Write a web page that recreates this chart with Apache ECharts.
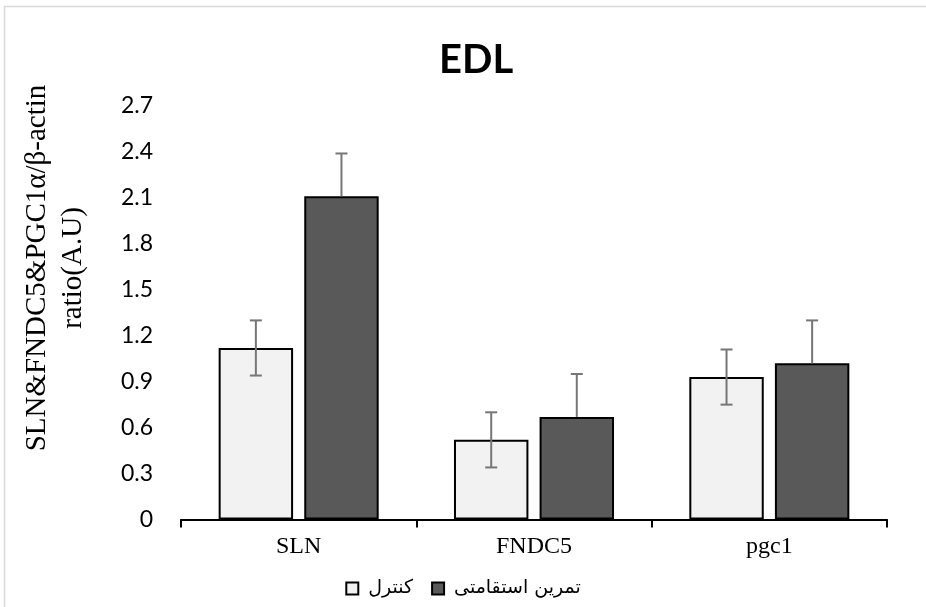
<!DOCTYPE html>
<html>
<head>
<meta charset="utf-8">
<script src="https://cdn.jsdelivr.net/npm/echarts@6/dist/echarts.min.js"></script>
<style>html,body{margin:0;padding:0;background:#fff;}#c{width:926px;height:607px;}</style>
</head>
<body>
<div id="c"></div>
<script>
var categories = ['SLN', 'FNDC5', 'pgc1'];
var seriesNames = ['کنترل', 'تمرین استقامتی'];
var controlValues = [1.12, 0.52, 0.93];
var controlErrors = [0.18, 0.18, 0.18];
var exerciseValues = [2.11, 0.67, 1.02];
var exerciseErrors = [0.28, 0.28, 0.28];
var yTicks = [0, 0.3, 0.6, 0.9, 1.2, 1.5, 1.8, 2.1, 2.4, 2.7];

var chart = echarts.init(document.getElementById('c'));
var catGap = 0.32, barGap = 0.15;

function errSeries(name, values, errors, idx, bothSides) {
  return {
    type: 'custom',
    name: name + '_err',
    z: 10,
    silent: true,
    data: values.map(function (v, i) { return [i, v, errors[i]]; }),
    renderItem: function (params, api) {
      var i = api.value(0), v = api.value(1), e = api.value(2);
      var band = api.size([1, 0])[0];
      var bw = band * (1 - catGap) / (2 + barGap);
      var off = (bw * (1 + barGap)) / 2 * (idx === 0 ? -1 : 1);
      var top = api.coord([i, v + e]);
      var mid = api.coord([i, v]);
      var bot = api.coord([i, v - e]);
      var x = top[0] + off;
      var lo = bothSides ? bot[1] : mid[1];
      var st = { stroke: '#767676', lineWidth: 2 };
      var children = [
        { type: 'line', shape: { x1: x, y1: top[1], x2: x, y2: lo }, style: st },
        { type: 'line', shape: { x1: x - 6, y1: top[1], x2: x + 6, y2: top[1] }, style: st }
      ];
      if (bothSides) children.push({ type: 'line', shape: { x1: x - 6, y1: bot[1], x2: x + 6, y2: bot[1] }, style: st });
      return { type: 'group', children: children };
    }
  };
}

chart.setOption({
  animation: false,
  backgroundColor: '#fff',
  title: {
    text: 'EDL', left: 434, top: 35,
    textStyle: { fontFamily: 'Lato', fontWeight: 'bold', fontSize: 40, color: '#000' }
  },
  grid: { left: 181, right: 39, top: 106, bottom: 87.5, containLabel: false },
  legend: {
    data: seriesNames,
    bottom: 4, left: 'center',
    itemWidth: 12, itemHeight: 12, itemGap: 18,
    icon: 'rect',
    textStyle: { fontFamily: 'DejaVu Sans', fontSize: 19, color: '#000', padding: [0, 0, 0, 5] }
  },
  xAxis: {
    type: 'category',
    data: categories,
    axisLine: { lineStyle: { color: '#000', width: 2 } },
    axisTick: { show: true, length: 8, lineStyle: { color: '#000', width: 2 } },
    axisLabel: { fontFamily: 'Liberation Serif', fontSize: 24, color: '#000', margin: 15 }
  },
  yAxis: {
    type: 'value', min: 0, max: 2.7, interval: 0.3,
    splitLine: { show: false },
    axisLine: { show: false },
    axisTick: { show: false },
    axisLabel: {
      fontFamily: 'Lato', fontSize: 23, color: '#000', margin: 28,
      formatter: function (v) { return yTicks.indexOf(Math.round(v * 10) / 10) >= 0 ? String(Math.round(v * 10) / 10) : ''; }
    }
  },
  graphic: [
    { type: 'rect', shape: { x: 4.5, y: 6.5, width: 1000, height: 1000 }, style: { fill: 'none', stroke: '#d9d9d9', lineWidth: 1.5 }, z: -1 },
    { type: 'text', x: 55, y: 268, rotation: Math.PI / 2,
      style: { text: 'SLN&FNDC5&PGC1α/β-actin\nratio(A.U)', fontFamily: 'Liberation Serif', fontSize: 29, fill: '#000', align: 'center', verticalAlign: 'middle', lineHeight: 36 } }
  ],
  series: [
    {
      type: 'bar', name: seriesNames[0], data: controlValues,
      barGap: (barGap * 100) + '%', barCategoryGap: (catGap * 100) + '%',
      itemStyle: { color: '#f2f2f2', borderColor: '#000', borderWidth: 2 }
    },
    {
      type: 'bar', name: seriesNames[1], data: exerciseValues,
      itemStyle: { color: '#595959', borderColor: '#000', borderWidth: 2 }
    },
    errSeries(seriesNames[0], controlValues, controlErrors, 0, true),
    errSeries(seriesNames[1], exerciseValues, exerciseErrors, 1, false)
  ]
});
</script>
</body>
</html>
